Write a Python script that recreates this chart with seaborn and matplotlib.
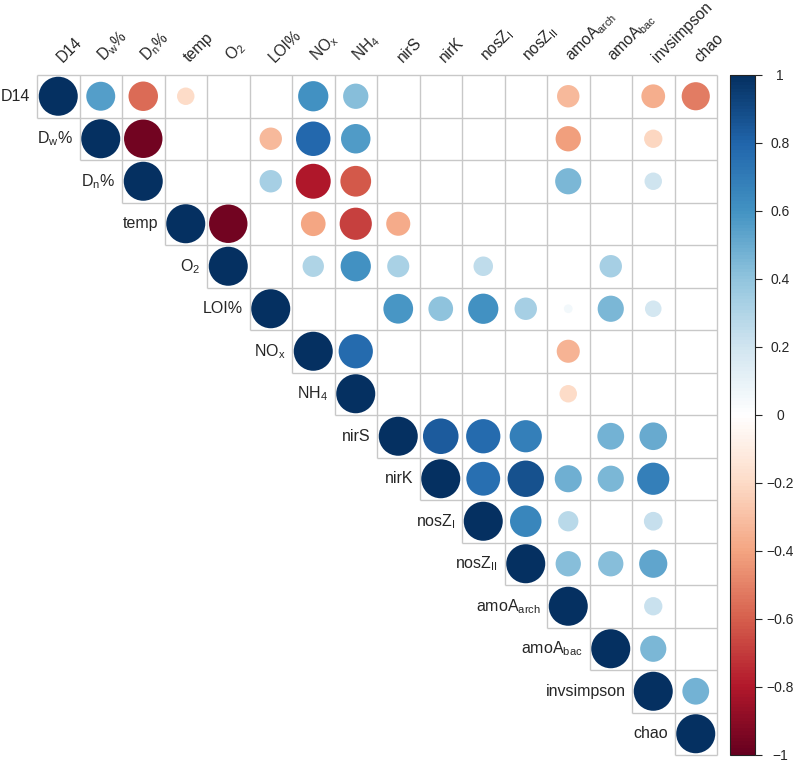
import matplotlib

matplotlib.use("Agg")
import matplotlib.pyplot as plt
import numpy as np
import pandas as pd
import seaborn as sns
from matplotlib.colors import LinearSegmentedColormap, Normalize
from matplotlib.cm import ScalarMappable

# ---------------------------------------------------------------------------
# Data: upper triangle of the correlation matrix (row i holds columns i..15),
# blank cells (not significant) are NaN
# ---------------------------------------------------------------------------
nan = np.nan
LABELS = ["D14", "D$_w$%", "D$_n$%", "temp", "O$_2$", "LOI%", "NO$_x$", "NH$_4$",
          "nirS", "nirK", "nosZ$_I$", "nosZ$_{II}$", "amoA$_{arch}$", "amoA$_{bac}$",
          "invsimpson", "chao"]

ROW_D14 = [1, 0.55, -0.57, -0.2, nan, nan, 0.6, 0.42, nan, nan, nan, nan, -0.33, nan, -0.37, -0.52]
ROW_DW = [1, -0.97, nan, nan, -0.33, 0.78, 0.57, nan, nan, nan, nan, -0.42, nan, -0.22, nan]
ROW_DN = [1, nan, nan, 0.33, -0.8, -0.62, nan, nan, nan, nan, 0.45, nan, 0.2, nan]
ROW_TEMP = [1, -0.97, nan, -0.4, -0.68, -0.38, nan, nan, nan, nan, nan, nan, nan]
ROW_O2 = [1, nan, 0.3, 0.6, 0.32, nan, 0.25, nan, nan, 0.33, nan, nan]
ROW_LOI = [1, nan, nan, 0.58, 0.4, 0.6, 0.33, 0.05, 0.45, 0.18, nan]
ROW_NOX = [1, 0.77, nan, nan, nan, nan, -0.35, nan, nan, nan]
ROW_NH4 = [1, nan, nan, nan, nan, -0.2, nan, nan, nan]
ROW_NIRS = [1, 0.83, 0.77, 0.68, nan, 0.47, 0.5, nan]
ROW_NIRK = [1, 0.75, 0.87, 0.48, 0.45, 0.68, nan]
ROW_NOSZI = [1, 0.65, 0.27, nan, 0.23, nan]
ROW_NOSZII = [1, 0.42, 0.42, 0.52, nan]
ROW_ARCH = [1, nan, 0.22, nan]
ROW_BAC = [1, 0.45, nan]
ROW_INVS = [1, 0.47]
ROW_CHAO = [1]

ROWS = [ROW_D14, ROW_DW, ROW_DN, ROW_TEMP, ROW_O2, ROW_LOI, ROW_NOX, ROW_NH4,
        ROW_NIRS, ROW_NIRK, ROW_NOSZI, ROW_NOSZII, ROW_ARCH, ROW_BAC, ROW_INVS, ROW_CHAO]

CBAR_TICKS = [1, 0.8, 0.6, 0.4, 0.2, 0, -0.2, -0.4, -0.6, -0.8, -1]
CBAR_LABELS = ["1", "0.8", "0.6", "0.4", "0.2", "0", "\u22120.2", "\u22120.4",
               "\u22120.6", "\u22120.8", "\u22121"]

# corrplot's RdBu ramp
COL2 = ["#67001F", "#B2182B", "#D6604D", "#F4A582", "#FDDBC7", "#FFFFFF",
        "#D1E5F0", "#92C5DE", "#4393C3", "#2166AC", "#053061"]

sns.set_style("white")
plt.rcParams["font.family"] = ["Liberation Sans", "DejaVu Sans"]
plt.rcParams["mathtext.default"] = "regular"

n = len(LABELS)

# long form table for seaborn
records = []
for i, row in enumerate(ROWS):
    for k, v in enumerate(row):
        if not np.isnan(v):
            records.append({"col": i + k, "row": i, "r": v, "absr": abs(v)})
df = pd.DataFrame(records)

cmap = LinearSegmentedColormap.from_list("col2", COL2, N=200)
norm = Normalize(-1, 1)

fig = plt.figure(figsize=(8, 7.62), dpi=100)
W, H = 800, 762
ax = fig.add_axes([37 / W, 7 / H, 680 / W, 680 / H])
ax.set_xlim(-0.5, n - 0.5)
ax.set_ylim(n - 0.5, -0.5)
ax.axis("off")

# grid lines of the upper triangle
grid_kw = dict(color="#C8C8C8", lw=1.0, zorder=1, clip_on=False)
for k in range(n + 1):
    ax.vlines(k - 0.5, -0.5, min(k, n - 1) + 0.5, **grid_kw)
for k in range(n + 1):
    ax.hlines(k - 0.5, max(k - 1, 0) - 0.5, n - 0.5, **grid_kw)

# circles: area proportional to |r|, colour by r
sns.scatterplot(data=df, x="col", y="row", hue="r", palette=cmap, hue_norm=norm,
                size="absr", sizes=(0, 790), size_norm=(0, 1), linewidth=0,
                legend=False, ax=ax, zorder=3, clip_on=False)

# labels
for j, lab in enumerate(LABELS):
    ax.text(j + 0.15, -0.74, lab, rotation=45, ha="left", va="bottom",
            rotation_mode="anchor", fontsize=11.2)
    ax.text(j - 0.5 - 0.15, j, lab, ha="right", va="center", fontsize=11.5)

# colour bar
cax = fig.add_axes([730 / W, 7 / H, 25 / W, 680 / H])
sm = ScalarMappable(norm=norm, cmap=cmap)
cb = fig.colorbar(sm, cax=cax)
cb.set_ticks(CBAR_TICKS)
cb.set_ticklabels(CBAR_LABELS)
cb.outline.set_linewidth(0.8)
cb.outline.set_edgecolor("#222222")
cax.tick_params(length=5, width=0.8, labelsize=10, pad=13)
for t in cax.get_yticklabels():
    t.set_ha("center")

fig.savefig("out.png", dpi=100)
